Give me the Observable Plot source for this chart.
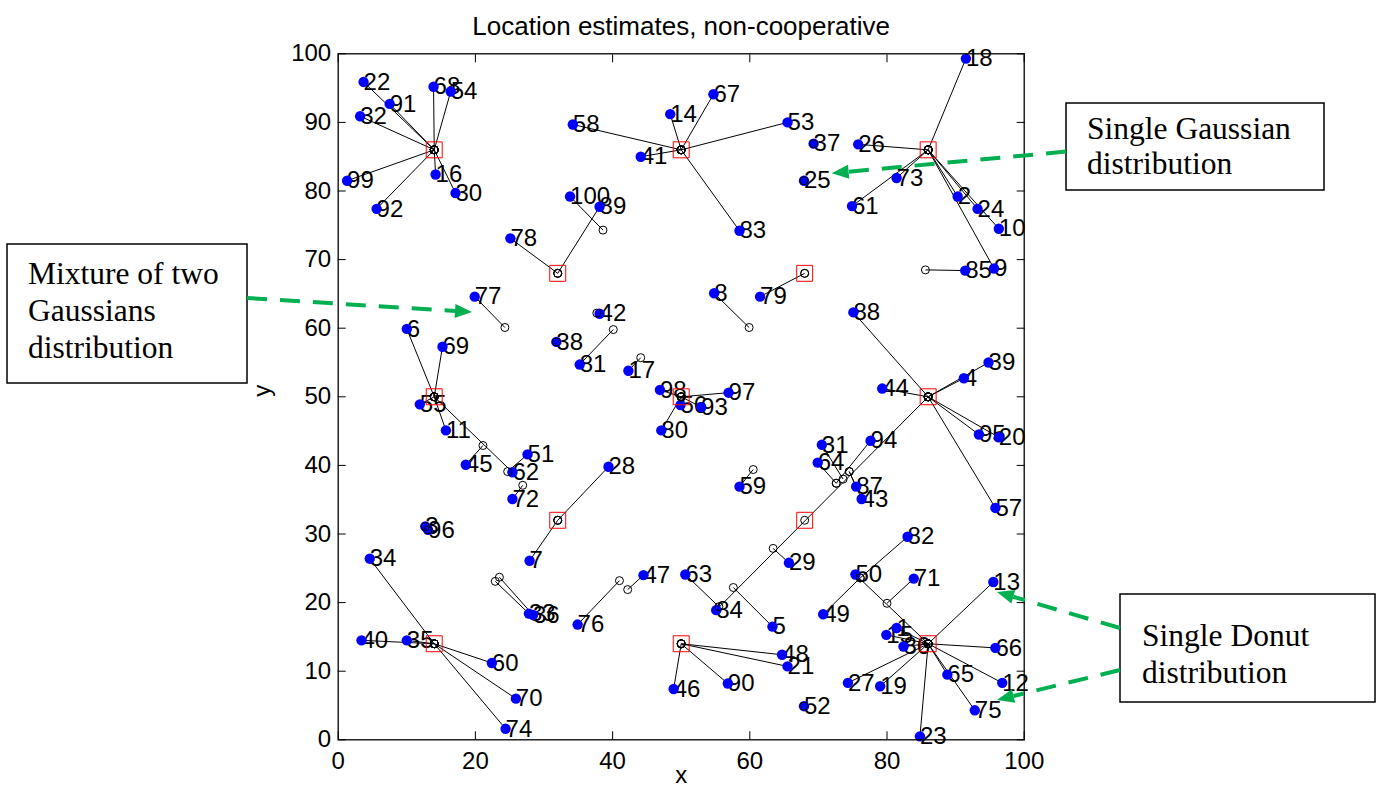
<!DOCTYPE html>
<html><head><meta charset="utf-8">
<script src="https://cdn.jsdelivr.net/npm/d3@7"></script>
<script src="https://cdn.jsdelivr.net/npm/@observablehq/plot@0.6"></script>
<style>html,body{margin:0;padding:0;background:#fff;}</style>
</head><body><div id="chart"></div>
<script>
// ---- data ----
const ids   = [22,91,32,68,54,99,92,16,30, 58,41,14,67,53,83, 100,89,78, 37,25, 26,73,61,2,24,10,18,9, 85, 77, 6,69,55,11,62, 45,51,72, 42,81,38,17, 98,80,97,56,93, 28,7, 8,79,59, 88,39,4,44,95,20,57, 31,64,94,87,43, 84, 33,36,76,47, 3,96, 34,40,35,60,70,74, 46,90,48,21, 52, 63,5,29, 82,49,71, 50, 13,66,12,65,75,23,27,19,15,1,86];
const trueX = [3.7,7.5,3.2,13.9,16.4,1.3,5.6,14.2,17.1, 34.2,44.1,48.4,54.7,65.5,58.5, 33.8,38.1,25.1, 69.3,67.9, 75.8,81.4,74.9,90.3,93.2,96.3,91.5,95.6, 91.4, 19.9, 10.0,15.2,11.9,15.7,25.4, 18.6,27.6,25.4, 38.1,35.2,31.8,42.3, 46.9,47.1,56.9,49.9,52.9, 39.4,27.9, 54.8,61.5,58.5, 75.1,94.8,91.2,79.3,93.4,96.3,95.8, 70.5,69.9,77.6,75.5,76.3, 55.1, 27.8,28.4,34.9,44.5, 12.7,13.1, 4.6,3.4,10.0,22.4,25.9,24.4, 48.9,56.8,64.7,65.5, 67.9, 50.6,63.3,65.7, 83.0,70.7,83.9, 75.4, 95.5,95.8,96.8,88.8,92.8,84.8,74.3,79.0,79.9,81.4,82.4];
const trueY = [95.9,92.7,90.9,95.2,94.5,81.5,77.4,82.4,79.7, 89.7,85.0,91.2,94.1,90.0,74.2, 79.2,77.7,73.1, 86.9,81.5, 86.8,81.9,77.8,79.2,77.4,74.5,99.3,68.7, 68.4, 64.6, 59.9,57.3,48.9,45.1,39.0, 40.1,41.6,35.1, 62.1,54.7,58.0,53.8, 51.0,45.1,50.6,48.8,48.5, 39.8,26.1, 65.1,64.6,36.9, 62.3,55.0,52.7,51.2,44.5,44.1,33.8, 43.0,40.4,43.6,36.9,35.1, 18.9, 18.4,18.2,16.8,24.0, 31.1,30.6, 26.4,14.5,14.5,11.2,6.0,1.6, 7.4,8.2,12.4,10.7, 4.9, 24.1,16.5,25.8, 29.6,18.3,23.5, 24.1, 23.0,13.4,8.3,9.5,4.3,0.5,8.3,7.8,15.3,16.3,13.6];
const estX  = [14,14,14,14,14,14,14,14,14, 50,50,50,50,50,50, 38.6,32,32, 69.3,67.9, 86,86,86,86,86,86,86,86, 85.6, 24.3, 14,14,14,14,14, 21.1,24.7,26.9, 37.7,40.1,31.8,44.1, 50,50,50,50,50, 32,32, 59.9,68,60.5, 86,86,86,86,86,86,86, 73.6,72.6,72.6,74.5,74.5, 86, 22.9,23.5,41.0,42.2, 12.7,13.1, 14,14,14,14,14,14, 50,50,50,50, 67.9, 55.5,57.6,63.4, 76.1,76.1,80.0, 86, 86,86,86,86,86,86,86,86,86,86,86];
const estY  = [86,86,86,86,86,86,86,86,86, 86,86,86,86,86,86, 74.3,68,68, 86.9,81.5, 86,86,86,86,86,86,86,86, 68.5, 60.1, 50,50,50,50,50, 42.9,39.1,37.1, 62.2,59.8,58.0,55.7, 50,50,50,50,50, 32,32, 60.1,68,39.4, 50,50,50,50,50,50,50, 38.0,37.4,37.4,39.1,39.1, 50, 23.1,23.7,23.2,21.9, 31.1,30.6, 14,14,14,14,14,14, 14,14,14,14, 4.9, 19.4,22.2,27.9, 23.6,23.6,19.9, 14, 14,14,14,14,14,14,14,14,14,14,14];
const anchorX = [14,50,86,32,68,14,50,86,32,68,14,50,86];
const anchorY = [86,86,86,68,68,50,50,50,32,32,14,14,14];
const xTicks = [0,20,40,60,80,100];
const yTicks = [0,10,20,30,40,50,60,70,80,90,100];
const chartTitle = "Location estimates, non-cooperative";
const notes = [
  {lines: ["Mixture of two","Gaussians","distribution"]},
  {lines: ["Single Gaussian","distribution"]},
  {lines: ["Single Donut","distribution"]}
];

(function () {
// ---- build tables ----
const points = ids.map((id,i)=>({id, x: trueX[i], y: trueY[i], ex: estX[i], ey: estY[i]}));
const anchors = anchorX.map((x,i)=>({x, y: anchorY[i]}));
const estimates = points.map(p=>({x:p.ex, y:p.ey})).concat(anchors);

const W=1383, H=807;
const pL=337.7, pR=1023.7, pT=53.3, pB=739.3;
const sans = "'Liberation Sans', Arial, sans-serif";
const serif = "'Liberation Serif', 'Times New Roman', serif";

const plot = Plot.plot({
  width: W, height: H,
  marginLeft: pL, marginRight: W-pR, marginTop: pT, marginBottom: H-pB,
  style: {fontFamily: sans, fontSize: "24px", background: "#fff", color: "#000", overflow: "visible"},
  x: {domain: [0,100]},
  y: {domain: [0,100]},
  marks: [
    Plot.text(points, {x: "x", y: "y", text: d => String(d.id), textAnchor: "start", fontSize: 24, fill: "#000"}),
    Plot.link(points, {x1: "x", y1: "y", x2: "ex", y2: "ey", stroke: "#000", strokeWidth: 1}),
    Plot.dot(points, {x: "x", y: "y", r: 5.2, fill: "#0000ff"}),
    Plot.dot(estimates, {x: "x", y: "y", r: 4, stroke: "#000", fill: "none", strokeWidth: 1}),
    Plot.dot(anchors, {x: "x", y: "y", symbol: "square", r: 9, stroke: "#ff0000", fill: "none", strokeWidth: 1}),
    Plot.axisX(xTicks, {anchor: "bottom", tickSize: -8, tickPadding: 20, fontSize: 24, label: null}),
    Plot.axisX(xTicks, {anchor: "top", tickSize: -8, tickFormat: () => "", label: null}),
    Plot.axisY(yTicks, {anchor: "left", tickSize: -8, tickPadding: 15, fontSize: 24, label: null}),
    Plot.axisY(yTicks, {anchor: "right", tickSize: -8, tickFormat: () => "", label: null}),
    Plot.frame({stroke: "#000", strokeWidth: 1.3}),
    Plot.text([chartTitle], {text: d => d, frameAnchor: "top", lineAnchor: "middle", dy: -27, fontSize: 26}),
    Plot.text(["x"], {text: d => d, frameAnchor: "bottom", lineAnchor: "middle", dy: 36, fontSize: 24}),
    Plot.text(["y"], {text: d => d, frameAnchor: "left", lineAnchor: "middle", dx: -76, rotate: -90, fontSize: 24})
  ]
});
document.getElementById("chart").appendChild(plot);

// ---- annotation call-outs (pixel layout) ----
const green = "#00B050";
const boxes = [
  {x0: 7,    y0: 244, x1: 247,  y1: 383, tx: 28,   ty: 284, lh: 37},
  {x0: 1066, y0: 103, x1: 1324, y1: 190, tx: 1087, ty: 139, lh: 35},
  {x0: 1120, y0: 594, x1: 1375, y1: 702, tx: 1142, ty: 646, lh: 37}
];
const arrows = [
  {sx: 247,  sy: 298,   tx: 472,   ty: 312},
  {sx: 1066, sy: 151.6, tx: 831.7, ty: 173.3},
  {sx: 1120, sy: 628,   tx: 997,   ty: 592},
  {sx: 1120, sy: 670,   tx: 997,   ty: 700}
];
const svg = d3.select(plot);
const g = svg.append("g").attr("text-anchor", "start");
boxes.forEach((b,i) => {
  g.append("rect").attr("x", b.x0).attr("y", b.y0).attr("width", b.x1-b.x0).attr("height", b.y1-b.y0)
    .attr("fill", "#fff").attr("stroke", "#000").attr("stroke-width", 1.5);
  notes[i].lines.forEach((t,j) => {
    g.append("text").attr("x", b.tx).attr("y", b.ty + j*b.lh).attr("font-family", serif)
      .attr("text-anchor", "start").attr("font-size", 31.5).attr("fill", "#000").text(t);
  });
});
arrows.forEach(a => {
  const dx = a.tx - a.sx, dy = a.ty - a.sy, L = Math.hypot(dx, dy);
  const ux = dx/L, uy = dy/L, hl = 17, hw = 7;
  const bx = a.tx - ux*hl, by = a.ty - uy*hl;
  g.append("line").attr("x1", a.sx).attr("y1", a.sy).attr("x2", bx).attr("y2", by)
    .attr("stroke", green).attr("stroke-width", 4).attr("stroke-dasharray", "20 13");
  g.append("polygon").attr("fill", green)
    .attr("points", `${a.tx},${a.ty} ${bx - uy*hw},${by + ux*hw} ${bx + uy*hw},${by - ux*hw}`);
});
})();
</script>
</body></html>
